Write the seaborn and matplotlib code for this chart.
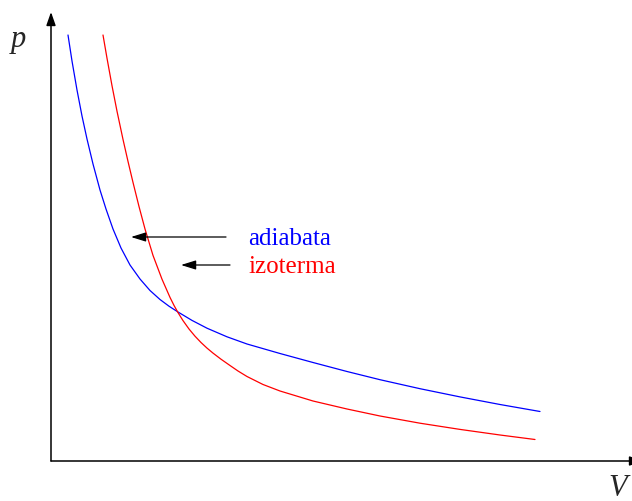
import matplotlib
matplotlib.use("Agg")
import matplotlib.pyplot as plt
import seaborn as sns

sns.set_style("white")
plt.rcParams["font.family"] = ["Liberation Serif", "DejaVu Serif"]

# Curve samples (V, p) (arbitrary units)
adiabata_V = [17, 21, 26, 31, 36, 42, 49, 55, 62, 70, 79, 89, 99, 109, 118, 127,
              141, 156, 176, 196, 229, 262, 296, 329, 369, 409, 449, 489]
adiabata_p = [426, 400, 371, 345, 322, 297, 271, 252, 232, 213, 196, 182, 170.5, 161.5, 154.8, 149,
              140.6, 132.8, 124.2, 117, 107.5, 98.5, 89.5, 81.3, 72.3, 64.1, 56.5, 49.5]
izoterma_V = [52, 56, 61, 66, 72, 77, 82, 88, 94, 102, 111, 119, 123, 127, 132, 138, 144, 150,
              156, 162, 170, 179, 187, 196, 212, 229, 262, 296, 329, 369, 409, 449, 484]
izoterma_p = [426, 402.8, 375.3, 349.8, 321.6, 299.6, 278.6, 254.5, 232, 205.6, 181.8, 163.6,
              155.6, 148.4, 140.4, 132, 124.8, 118.5, 112.9, 107.9, 101.8, 95.5, 90, 84.5,
              76.5, 70, 60, 52, 45, 37.8, 31.6, 26, 21.5]

labels = ["adiabata", "izoterma"]
colors = ["#0000ff", "#ff0000"]

fig = plt.figure(figsize=(6.32, 5.02), dpi=100)
ax = fig.add_axes([51 / 632, 40 / 502, 581 / 632, 462 / 502])
ax.set_xlim(0, 581)
ax.set_ylim(0, 462)
ax.axis("off")

for V, p, c in [(adiabata_V, adiabata_p, colors[0]), (izoterma_V, izoterma_p, colors[1])]:
    sns.lineplot(x=V, y=p, color=c, linewidth=0.9, ax=ax, sort=False,
                 solid_joinstyle="round", solid_capstyle="round")

# axes arrows
ax.annotate("", xy=(0, 462 - 13), xytext=(0, 0), annotation_clip=False,
            arrowprops=dict(arrowstyle="-|>,head_length=0.8,head_width=0.28", mutation_scale=10,
                            color="black", lw=1.1, shrinkA=0, shrinkB=0))
ax.annotate("", xy=(592, 0), xytext=(0, 0), annotation_clip=False,
            arrowprops=dict(arrowstyle="-|>,head_length=0.8,head_width=0.28", mutation_scale=10,
                            color="black", lw=1.1, shrinkA=0, shrinkB=0))

# label arrows
ax.annotate("", xy=(80, 224), xytext=(175, 224),
            arrowprops=dict(arrowstyle="-|>,head_length=0.9,head_width=0.28", mutation_scale=10,
                            color="black", lw=0.9, shrinkA=0, shrinkB=0))
ax.annotate("", xy=(130, 196), xytext=(179, 196),
            arrowprops=dict(arrowstyle="-|>,head_length=0.9,head_width=0.28", mutation_scale=10,
                            color="black", lw=0.9, shrinkA=0, shrinkB=0))

ax.text(197, 223, labels[0], color=colors[0], fontsize=18, va="center", ha="left")
ax.text(197, 195, labels[1], color=colors[1], fontsize=18, va="center", ha="left")

ax.text(-33, 423, "p", fontsize=22, style="italic", ha="center", va="center")
ax.text(567, -27, "V", fontsize=22, style="italic", ha="center", va="center")

fig.savefig("out.png", dpi=100)
